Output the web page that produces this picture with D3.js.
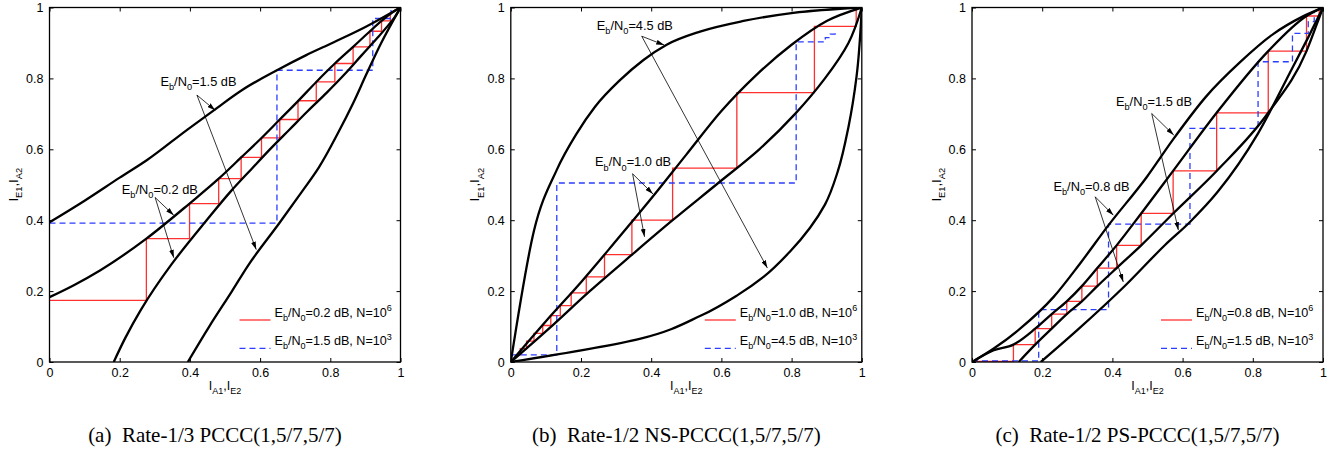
<!DOCTYPE html>
<html>
<head>
<meta charset="utf-8">
<script src="https://cdn.jsdelivr.net/npm/d3@7"></script>
<style>
  body { margin: 0; background: #fff; }
  svg text { font-family: "Liberation Sans", Arial, Helvetica, sans-serif; }
</style>
</head>
<body>
<svg id="chart" width="1334" height="451"></svg>
<script>
// ---- data, [x, y] in mutual-information units ----
const ticks = [0, 0.2, 0.4, 0.6, 0.8, 1];

// (a) rate-1/3 PCCC, decoder transfer curves (2nd decoder is the same curve with axes swapped)
const pcccCurve15 = [[0,0.394],[0.1,0.455],[0.2,0.52],[0.277,0.569],[0.392,0.655],[0.468,0.71],[0.55,0.768],[0.648,0.823],[0.73,0.865],[0.81,0.902],[0.9,0.945],[1,1]];
const pcccCurve02 = [[0,0.183],[0.068,0.216],[0.145,0.259],[0.276,0.348],[0.399,0.447],[0.482,0.517],[0.546,0.577],[0.604,0.632],[0.656,0.684],[0.708,0.736],[0.76,0.79],[0.813,0.842],[0.865,0.889],[0.913,0.933],[0.946,0.962],[0.975,0.985],[1,1]];
// decoding trajectories, one corner per step
const pcccStairRed = [[0,0.174],[0.276,0.348],[0.399,0.447],[0.482,0.517],[0.546,0.577],[0.604,0.632],[0.656,0.684],[0.708,0.737],[0.76,0.79],[0.813,0.842],[0.865,0.889],[0.913,0.933],[0.946,0.962],[0.971,0.983]];
const pcccStairBlue = [[0,0.392],[0.648,0.823],[0.921,0.969],[0.973,0.993]];

// (b) rate-1/2 NS-PCCC
const nsCurve45 = [[0,0],[0.066,0.37],[0.131,0.542],[0.188,0.645],[0.24,0.72],[0.311,0.795],[0.378,0.852],[0.444,0.895],[0.539,0.932],[0.663,0.962],[0.805,0.985],[1,1]];
const nsCurve10 = [[0,0],[0.1,0.115],[0.2,0.225],[0.3,0.342],[0.4,0.461],[0.5,0.585],[0.6,0.708],[0.7,0.81],[0.8,0.895],[0.9,0.962],[1,1]];
const nsStairRed = [[0.014,0.02],[0.027,0.038],[0.045,0.059],[0.066,0.081],[0.091,0.103],[0.114,0.131],[0.141,0.159],[0.172,0.195],[0.215,0.24],[0.267,0.303],[0.345,0.4],[0.461,0.547],[0.644,0.76],[0.865,0.947],[0.984,0.997]];
const nsStairBlue = [[0,0.02],[0.131,0.505],[0.813,0.903],[0.896,0.915],[0.91,0.925],[0.924,0.931]];

// (c) rate-1/2 PS-PCCC, the two decoders differ
const psUpper15 = [[0,0],[0.062,0.038],[0.137,0.094],[0.232,0.183],[0.308,0.278],[0.389,0.386],[0.498,0.522],[0.573,0.628],[0.668,0.75],[0.763,0.845],[0.858,0.925],[0.943,0.975],[1,1]];
const psLower15 = [[0.196,0],[0.299,0.089],[0.436,0.215],[0.55,0.33],[0.621,0.395],[0.7,0.48],[0.815,0.645],[0.913,0.83],[0.96,0.92],[1,1]];
const psUpper08 = [[0,0],[0.062,0.033],[0.118,0.049],[0.18,0.094],[0.227,0.135],[0.27,0.171],[0.313,0.214],[0.357,0.265],[0.412,0.329],[0.482,0.419],[0.573,0.539],[0.697,0.703],[0.844,0.877],[0.953,0.976],[1,1]];
const psLower08 = [[0.133,0],[0.18,0.049],[0.227,0.094],[0.27,0.135],[0.313,0.171],[0.357,0.214],[0.412,0.265],[0.482,0.329],[0.573,0.419],[0.697,0.539],[0.844,0.703],[0.953,0.877],[0.991,0.976],[1,1]];
const psStairRed = [[0,0.002],[0.118,0.049],[0.18,0.094],[0.227,0.135],[0.27,0.171],[0.313,0.214],[0.357,0.265],[0.412,0.329],[0.482,0.419],[0.573,0.539],[0.697,0.703],[0.844,0.877],[0.953,0.976],[0.989,0.995]];
const psStairBlue = [[0,0.003],[0.19,0.148],[0.389,0.389],[0.621,0.659],[0.815,0.847],[0.913,0.927],[0.958,0.96],[0.975,0.985]];

const captions = ['(a)\u00a0 Rate-1/3 PCCC(1,5/7,5/7)', '(b)\u00a0 Rate-1/2 NS-PCCC(1,5/7,5/7)', '(c)\u00a0 Rate-1/2 PS-PCCC(1,5/7,5/7)'];

// ---- layout ----
const plotW = 351, plotTop = 7.5, plotBottom = 362;
const RED = '#ff3030', BLUE = '#2b3dff';

const panels = [
  {
    left: 49.5, caption: captions[0], legendDx: 190,
    curves: [{ pts: pcccCurve15 }, { pts: pcccCurve15, flip: true }, { pts: pcccCurve02 }, { pts: pcccCurve02, flip: true }],
    red: pcccStairRed, blue: pcccStairBlue,
    legend: ['E_b/N_0=0.2 dB, N=10^6', 'E_b/N_0=1.5 dB, N=10^3'],
    notes: [
      { text: 'E_b/N_0=1.5 dB', at: [0.316, 0.778], from: [0.42, 0.753], to: [[0.472, 0.71], [0.589, 0.317]] },
      { text: 'E_b/N_0=0.2 dB', at: [0.206, 0.475], from: [0.301, 0.464], to: [[0.354, 0.414], [0.354, 0.294]] }
    ]
  },
  {
    left: 510.8, caption: captions[1], legendDx: 194,
    curves: [{ pts: nsCurve45 }, { pts: nsCurve45, flip: true }, { pts: nsCurve10 }, { pts: nsCurve10, flip: true }],
    red: nsStairRed, blue: nsStairBlue,
    legend: ['E_b/N_0=1.0 dB, N=10^6', 'E_b/N_0=4.5 dB, N=10^3'],
    notes: [
      { text: 'E_b/N_0=4.5 dB', at: [0.245, 0.936], from: [0.373, 0.919], to: [[0.437, 0.894], [0.731, 0.265]] },
      { text: 'E_b/N_0=1.0 dB', at: [0.24, 0.552], from: [0.347, 0.531], to: [[0.405, 0.474], [0.381, 0.353]] }
    ]
  },
  {
    left: 972, caption: captions[2], legendDx: 189,
    curves: [{ pts: psUpper15 }, { pts: psLower15 }, { pts: psUpper08 }, { pts: psLower08 }],
    red: psStairRed, blue: psStairBlue,
    legend: ['E_b/N_0=0.8 dB, N=10^6', 'E_b/N_0=1.5 dB, N=10^3'],
    notes: [
      { text: 'E_b/N_0=1.5 dB', at: [0.41, 0.722], from: [0.512, 0.701], to: [[0.575, 0.64], [0.588, 0.372]] },
      { text: 'E_b/N_0=0.8 dB', at: [0.232, 0.483], from: [0.351, 0.466], to: [[0.403, 0.414], [0.431, 0.226]] }
    ]
  }
];

const svg = d3.select('#chart');
const defs = svg.append('defs');
defs.append('marker')
  .attr('id', 'arrow')
  .attr('viewBox', '0 0 10 6')
  .attr('refX', 10).attr('refY', 3)
  .attr('markerWidth', 8).attr('markerHeight', 5)
  .attr('markerUnits', 'userSpaceOnUse')
  .attr('orient', 'auto')
  .append('path').attr('d', 'M0,0L10,3L0,6Z').attr('fill', '#000');

// text with _x / _{xy} subscripts and ^x superscripts
function rich(sel, str, size) {
  const re = /([_^])(\{([^}]*)\}|(.))/g;
  const parts = [];
  let last = 0, m;
  while ((m = re.exec(str))) {
    if (m.index > last) parts.push([str.slice(last, m.index), 0]);
    parts.push([m[3] !== undefined ? m[3] : m[4], m[1] === '_' ? 1 : -1]);
    last = re.lastIndex;
  }
  if (last < str.length) parts.push([str.slice(last), 0]);
  let cur = 0;
  parts.forEach(([t, k]) => {
    const target = k === 1 ? size * 0.33 : k === -1 ? -size * 0.42 : 0;
    sel.append('tspan')
      .attr('dy', target - cur)
      .attr('font-size', k ? size * 0.72 : size)
      .text(t);
    cur = target;
  });
}

const fmt = d => (d === 0 || d === 1) ? String(d) : d.toFixed(1);

panels.forEach((p, i) => {
  const x = d3.scaleLinear().domain([0, 1]).range([p.left, p.left + plotW]);
  const y = d3.scaleLinear().domain([0, 1]).range([plotBottom, plotTop]);
  const g = svg.append('g');

  defs.append('clipPath').attr('id', 'clip' + i)
    .append('rect')
    .attr('x', x(0)).attr('y', y(1))
    .attr('width', plotW).attr('height', plotBottom - plotTop);

  const plot = g.append('g').attr('clip-path', `url(#clip${i})`);

  const stair = d3.line().x(d => x(d[0])).y(d => y(d[1])).curve(d3.curveStepAfter);
  plot.append('path').datum(p.red)
    .attr('d', stair).attr('fill', 'none')
    .attr('stroke', RED).attr('stroke-width', 1.3);
  plot.append('path').datum(p.blue)
    .attr('d', stair).attr('fill', 'none')
    .attr('stroke', BLUE).attr('stroke-width', 1.3)
    .attr('stroke-dasharray', '6,4');

  const lineX = d3.line().x(d => x(d[0])).y(d => y(d[1])).curve(d3.curveMonotoneX);
  const lineY = d3.line().x(d => x(d[1])).y(d => y(d[0])).curve(d3.curveMonotoneY);
  plot.selectAll('.curve')
    .data(p.curves)
    .enter().append('path')
    .attr('class', 'curve')
    .attr('d', c => c.flip ? lineY(c.pts) : lineX(c.pts))
    .attr('fill', 'none')
    .attr('stroke', '#000')
    .attr('stroke-width', 2.3)
    .attr('stroke-linejoin', 'round');

  // annotations with arrows
  p.notes.forEach(n => {
    n.to.forEach(t => {
      g.append('line')
        .attr('x1', x(n.from[0])).attr('y1', y(n.from[1]))
        .attr('x2', x(t[0])).attr('y2', y(t[1]))
        .attr('stroke', '#000').attr('stroke-width', 0.8)
        .attr('marker-end', 'url(#arrow)');
    });
    const t = g.append('text').attr('x', x(n.at[0])).attr('y', y(n.at[1])).attr('fill', '#000');
    rich(t, n.text, 12.8);
  });

  // legend (no box, MATLAB style)
  const lx = p.left + p.legendDx;
  [[RED, null, 320, 316.7], [BLUE, '6,4', 348.3, 345]].forEach((row, k) => {
    g.append('line')
      .attr('x1', lx).attr('x2', lx + 31)
      .attr('y1', row[2]).attr('y2', row[2])
      .attr('stroke', row[0]).attr('stroke-width', 1.3)
      .attr('stroke-dasharray', row[1]);
    const t = g.append('text').attr('x', lx + 35).attr('y', row[3]);
    rich(t, p.legend[k], 12.6);
  });

  // axes: ticks pointing in on all four sides
  const axes = [
    g.append('g').attr('transform', `translate(0,${plotBottom})`)
      .call(d3.axisBottom(x).tickValues(ticks).tickSizeInner(-4).tickSizeOuter(0).tickPadding(6.5).tickFormat(fmt)),
    g.append('g').attr('transform', `translate(${p.left},0)`)
      .call(d3.axisLeft(y).tickValues(ticks).tickSizeInner(-4).tickSizeOuter(0).tickPadding(6).tickFormat(fmt)),
    g.append('g').attr('transform', `translate(0,${plotTop})`)
      .call(d3.axisTop(x).tickValues(ticks).tickSizeInner(-4).tickSizeOuter(0).tickFormat(() => '')),
    g.append('g').attr('transform', `translate(${p.left + plotW},0)`)
      .call(d3.axisRight(y).tickValues(ticks).tickSizeInner(-4).tickSizeOuter(0).tickFormat(() => ''))
  ];
  axes.forEach(a => {
    a.select('.domain').remove();
    a.selectAll('line').attr('stroke', '#000');
    a.selectAll('text').attr('font-size', 12.5).attr('fill', '#000')
      .style('font-family', '"Liberation Sans", Arial, sans-serif');
  });

  g.append('rect')
    .attr('x', x(0)).attr('y', y(1))
    .attr('width', plotW).attr('height', plotBottom - plotTop)
    .attr('fill', 'none').attr('stroke', '#000').attr('stroke-width', 1.3);

  // axis titles
  const cx = p.left + plotW / 2;
  const xl = g.append('text').attr('x', cx).attr('y', 389.5).attr('text-anchor', 'middle');
  rich(xl, 'I_{A1},I_{E2}', 12.5);
  const yl = g.append('text')
    .attr('transform', `translate(${p.left - 31.5},${(plotTop + plotBottom) / 2}) rotate(-90)`)
    .attr('text-anchor', 'middle');
  rich(yl, 'I_{E1},I_{A2}', 13);

  g.append('text')
    .attr('x', cx - 10).attr('y', 441.5)
    .attr('text-anchor', 'middle')
    .style('font-family', '"Liberation Serif", "Times New Roman", serif')
    .attr('font-size', 21)
    .text(p.caption);
});
</script>
</body>
</html>
